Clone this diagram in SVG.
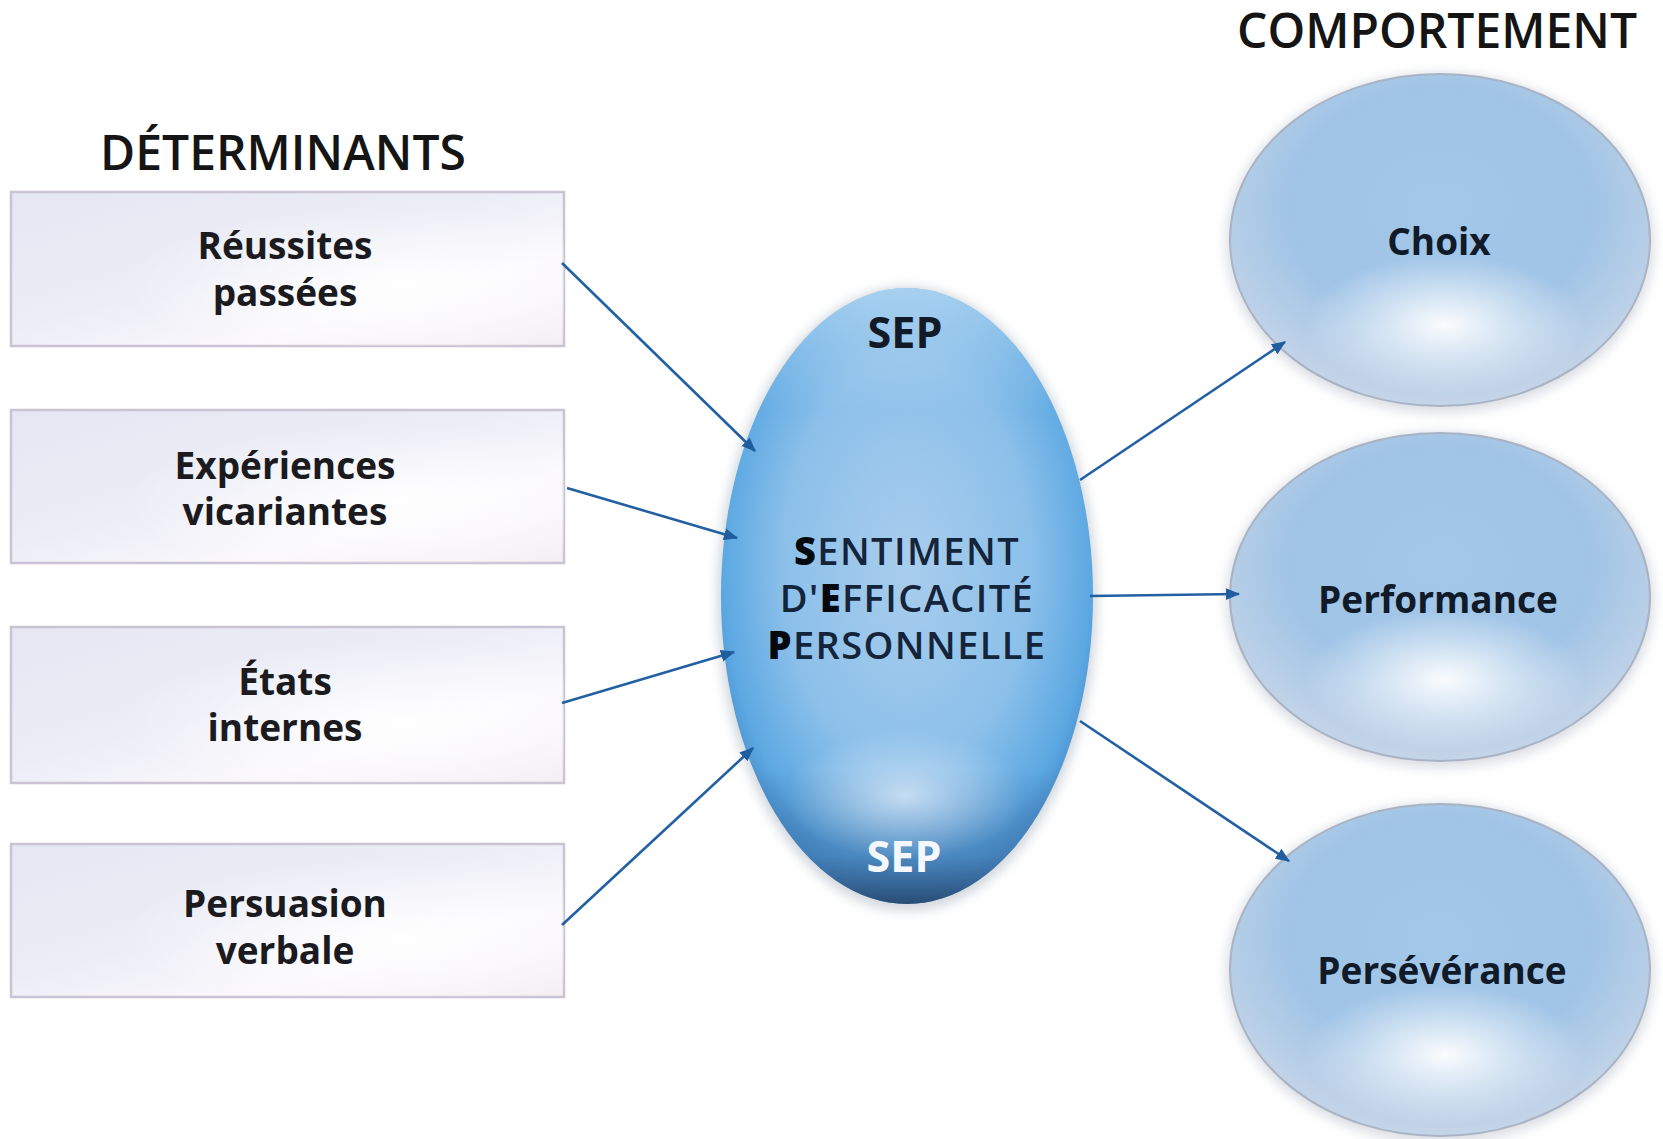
<svg xmlns="http://www.w3.org/2000/svg" width="1663" height="1139" viewBox="0 0 1663 1139">
  <defs>
    <style>
      .hdr { font-family: "Open Sans", "Liberation Sans", sans-serif; font-weight: 600; font-size: 48px; fill: #151515; text-anchor: middle; }
      .lbl { font-family: "Open Sans", "Liberation Sans", sans-serif; font-weight: 700; font-size: 37px; fill: #1b1b1f; text-anchor: middle; }
      .out { font-family: "Open Sans", "Liberation Sans", sans-serif; font-weight: 700; font-size: 37px; fill: #101a28; text-anchor: middle; }
      .sep { font-family: "Open Sans", "Liberation Sans", sans-serif; font-weight: 700; font-size: 43px; text-anchor: middle; }
      .core { font-family: "Open Sans", "Liberation Sans", sans-serif; font-weight: 600; font-size: 38px; letter-spacing: 1.4px; fill: #14243a; text-anchor: middle; }
      .core tspan.k { font-weight: 800; fill: #05080d; }
      .box { stroke: #c9c3d3; stroke-width: 2.5; }
      .link { stroke: #2360a3; stroke-width: 2.6; fill: none; marker-end: url(#head); }
      .bubble { stroke: #a9b3c4; stroke-width: 2; }
    </style>
    <marker id="head" viewBox="0 0 12 10" refX="11" refY="5" markerWidth="5.5" markerHeight="5" orient="auto" markerUnits="strokeWidth">
      <path d="M0,0 L12,5 L0,10 Z" fill="#1f5d9f"/>
    </marker>
    <linearGradient id="boxFill" x1="0" y1="0" x2="1" y2="1">
      <stop offset="0" stop-color="#e4e6f2"/>
      <stop offset="0.45" stop-color="#ecedf6"/>
      <stop offset="0.7" stop-color="#faf8fc"/>
      <stop offset="1" stop-color="#f3eef2"/>
    </linearGradient>
    <radialGradient id="boxGlow" cx="0.7" cy="0.6" r="0.5">
      <stop offset="0" stop-color="#ffffff" stop-opacity="0.9"/>
      <stop offset="1" stop-color="#ffffff" stop-opacity="0"/>
    </radialGradient>
    <radialGradient id="coreFill" cx="0.5" cy="0.45" r="0.55">
      <stop offset="0" stop-color="#a9cdec"/>
      <stop offset="0.6" stop-color="#8cc0ea"/>
      <stop offset="0.9" stop-color="#5ca8e2"/>
      <stop offset="1" stop-color="#4a8fcc"/>
    </radialGradient>
    <linearGradient id="coreShade" x1="0" y1="0" x2="0" y2="1">
      <stop offset="0" stop-color="#dcecf8" stop-opacity="0.55"/>
      <stop offset="0.2" stop-color="#c8e0f4" stop-opacity="0"/>
      <stop offset="0.78" stop-color="#2f5f93" stop-opacity="0"/>
      <stop offset="0.92" stop-color="#3a6ea5" stop-opacity="0.55"/>
      <stop offset="1" stop-color="#27486f" stop-opacity="0.95"/>
    </linearGradient>
    <radialGradient id="coreGlow" cx="0.5" cy="0.5" r="0.5">
      <stop offset="0" stop-color="#d3e5f6" stop-opacity="0.85"/>
      <stop offset="1" stop-color="#c2dbf2" stop-opacity="0"/>
    </radialGradient>
    <radialGradient id="bubFill" cx="0.5" cy="0.4" r="0.6">
      <stop offset="0" stop-color="#a2c7e9"/>
      <stop offset="0.6" stop-color="#a0c4e6"/>
      <stop offset="1" stop-color="#c6d5e8"/>
    </radialGradient>
    <radialGradient id="bubGlow" cx="0.5" cy="0.5" r="0.5">
      <stop offset="0" stop-color="#ffffff" stop-opacity="0.95"/>
      <stop offset="1" stop-color="#ffffff" stop-opacity="0"/>
    </radialGradient>
    <filter id="soft" x="-20%" y="-20%" width="140%" height="140%">
      <feGaussianBlur stdDeviation="6"/>
    </filter>
  </defs>

  <rect width="1663" height="1139" fill="#ffffff"/>

  <!-- column titles -->
  <text class="hdr" x="283" y="170">DÉTERMINANTS</text>
  <text class="hdr" x="1437" y="48">COMPORTEMENT</text>

  <!-- determinant boxes -->
  <g id="reussites">
    <rect class="box" x="11" y="192" width="553" height="154" fill="url(#boxFill)"/>
    <rect x="11" y="192" width="553" height="154" fill="url(#boxGlow)"/>
    <text class="lbl" x="285" y="259">Réussites</text>
    <text class="lbl" x="285" y="306">passées</text>
  </g>
  <g id="experiences">
    <rect class="box" x="11" y="410" width="553" height="153" fill="url(#boxFill)"/>
    <rect x="11" y="410" width="553" height="153" fill="url(#boxGlow)"/>
    <text class="lbl" x="285" y="479">Expériences</text>
    <text class="lbl" x="285" y="525">vicariantes</text>
  </g>
  <g id="etats">
    <rect class="box" x="11" y="627" width="553" height="156" fill="url(#boxFill)"/>
    <rect x="11" y="627" width="553" height="156" fill="url(#boxGlow)"/>
    <text class="lbl" x="285" y="695">États</text>
    <text class="lbl" x="285" y="741">internes</text>
  </g>
  <g id="persuasion">
    <rect class="box" x="11" y="844" width="553" height="153" fill="url(#boxFill)"/>
    <rect x="11" y="844" width="553" height="153" fill="url(#boxGlow)"/>
    <text class="lbl" x="285" y="917">Persuasion</text>
    <text class="lbl" x="285" y="964">verbale</text>
  </g>

  <!-- central node: sentiment d'efficacité personnelle -->
  <g id="sep">
    <ellipse cx="907" cy="599" rx="190" ry="312" fill="#9aa6b4" opacity="0.45" filter="url(#soft)"/>
    <ellipse cx="907" cy="596" rx="186" ry="308" fill="url(#coreFill)"/>
    <ellipse cx="907" cy="596" rx="186" ry="308" fill="url(#coreShade)"/>
    <ellipse cx="905" cy="795" rx="120" ry="65" fill="url(#coreGlow)"/>
    <text class="sep" x="905" y="348" fill="#111a26">SEP</text>
    <text class="core" x="907" y="565"><tspan class="k">S</tspan>ENTIMENT</text>
    <text class="core" x="907" y="612">D'<tspan class="k">E</tspan>FFICACITÉ</text>
    <text class="core" x="907" y="659"><tspan class="k">P</tspan>ERSONNELLE</text>
    <text class="sep" x="904" y="872" fill="#f4f8fc">SEP</text>
  </g>

  <!-- behaviour outcomes -->
  <g id="choix">
    <ellipse cx="1440" cy="243" rx="214" ry="170" fill="#b5bcc8" opacity="0.5" filter="url(#soft)"/>
    <ellipse class="bubble" cx="1440" cy="240" rx="210" ry="166" fill="url(#bubFill)"/>
    <ellipse cx="1445" cy="325" rx="140" ry="70" fill="url(#bubGlow)"/>
    <text class="out" x="1439" y="255">Choix</text>
  </g>
  <g id="performance">
    <ellipse cx="1440" cy="600" rx="214" ry="168" fill="#b5bcc8" opacity="0.5" filter="url(#soft)"/>
    <ellipse class="bubble" cx="1440" cy="597" rx="210" ry="164" fill="url(#bubFill)"/>
    <ellipse cx="1445" cy="680" rx="140" ry="70" fill="url(#bubGlow)"/>
    <text class="out" x="1438" y="613">Performance</text>
  </g>
  <g id="perseverance">
    <ellipse cx="1440" cy="973" rx="214" ry="170" fill="#b5bcc8" opacity="0.5" filter="url(#soft)"/>
    <ellipse class="bubble" cx="1440" cy="970" rx="210" ry="166" fill="url(#bubFill)"/>
    <ellipse cx="1445" cy="1055" rx="140" ry="70" fill="url(#bubGlow)"/>
    <text class="out" x="1442" y="984">Persévérance</text>
  </g>

  <!-- connectors -->
  <g id="connectors">
    <line class="link" x1="562" y1="263" x2="755" y2="451"/>
    <line class="link" x1="567" y1="488" x2="737" y2="538"/>
    <line class="link" x1="562" y1="703" x2="734" y2="652"/>
    <line class="link" x1="562" y1="925" x2="753" y2="748"/>
    <line class="link" x1="1080" y1="480" x2="1285" y2="342"/>
    <line class="link" x1="1090" y1="596" x2="1239" y2="594"/>
    <line class="link" x1="1080" y1="721" x2="1289" y2="861"/>
  </g>
</svg>
